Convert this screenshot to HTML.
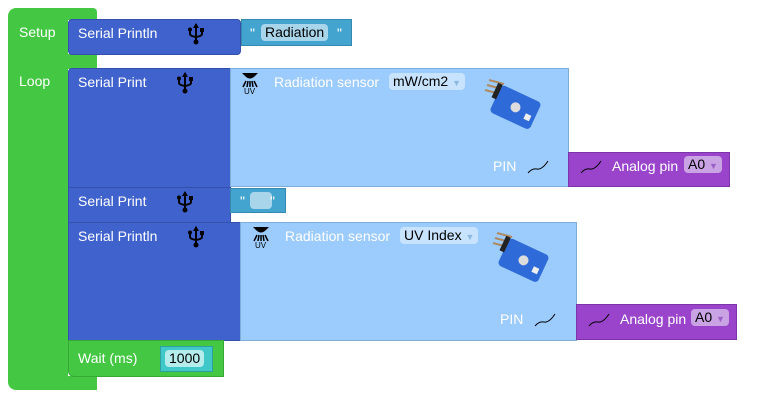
<!DOCTYPE html>
<html><head><meta charset="utf-8"><style>
body{margin:0;width:777px;height:401px;background:#fff;position:relative;overflow:hidden;font-family:"Liberation Sans",Arial,sans-serif;font-size:14px;color:#fff}
.a{position:absolute;box-sizing:border-box}
.g{background:#44c844}
.b{background:#4062cc;border:1px solid #3350aa}
.s{background:#43a4cf;border:1px solid #3689ae}
.l{background:#9ccbfd;border:1px solid #7fadd9}
.p{background:#9a44cc;border:1px solid #7c34a8}
.t{position:absolute;white-space:nowrap;line-height:16px;font-family:"Liberation Sans",Arial,sans-serif}
.f{position:absolute;border-radius:4px;color:#000;padding:0 4px;line-height:17px;height:17px;white-space:nowrap}
</style></head><body>
<svg width="0" height="0" style="position:absolute"><defs>
<g id="usb"><path d="M8 1 L8 18" stroke="#000" stroke-width="2"/><path d="M5 5 L8 0 L11 5Z" fill="#000"/><circle cx="8" cy="19" r="2.5" fill="#000"/><path d="M2 7 L2 11 Q2 13 8 14 Q14 13 14 11 L14 8" stroke="#000" stroke-width="2" fill="none"/><circle cx="2" cy="6.5" r="2" fill="#000"/><rect x="12" y="5" width="4" height="4" fill="#000"/></g>
<g id="uv"><path d="M2 1 L18 1 L15 4 Q10 9 5 4 Z" fill="#000"/><path d="M6 9 L3 15 M8 9 L7 15 M12 9 L13 15 M14 9 L17 15 M10 9 L10 15" stroke="#000" stroke-width="1.5"/><text x="4" y="22" font-size="8" fill="#000" font-family="Liberation Sans">UV</text></g>
<g id="board"><path d="M5 12 L20 16 M7 7 L22 11 M9 2 L24 6" stroke="#b08a60" stroke-width="2"/><g transform="rotate(25 35 28)"><rect x="14" y="14" width="44" height="30" rx="4" fill="#2f6bd8"/><circle cx="36" cy="29" r="5" fill="#ddd"/><rect x="48" y="30" width="6" height="6" fill="#eee"/><rect x="10" y="14" width="5" height="16" fill="#222"/></g></g>
</defs></svg>
<div class="a g" style="left:8px;top:8px;width:60px;height:382px;border-radius:8px 0 0 8px"></div>
<div class="a g" style="left:60px;top:8px;width:37px;height:12px;border-radius:0 4px 0 0"></div>
<div class="a g" style="left:60px;top:54px;width:37px;height:15px"></div>
<div class="a g" style="left:60px;top:376px;width:37px;height:14px"></div>
<div class="t" style="left:19px;top:24px">Setup</div>
<div class="t" style="left:19px;top:73px">Loop</div>

<div class="a b" style="left:68px;top:19px;width:173px;height:36px;border-radius:4px"></div>
<div class="t" style="left:78px;top:25px">Serial Println</div>
<svg class="a" style="left:188px;top:23px" width="18" height="24"><use href="#usb"/></svg>
<div class="a s" style="left:241px;top:19px;width:111px;height:27px"></div>
<div class="t" style="left:250px;top:25px">"</div>
<div class="f" style="left:261px;top:24px;background:#a9d5ea">Radiation</div>
<div class="t" style="left:337px;top:25px">"</div>

<div class="a b" style="left:68px;top:68px;width:163px;height:120px;border-radius:4px 0 0 0"></div>
<div class="t" style="left:78px;top:74px">Serial Print</div>
<svg class="a" style="left:177px;top:72px" width="18" height="24"><use href="#usb"/></svg>
<div class="a l" style="left:230px;top:68px;width:339px;height:119px"></div>
<svg class="a" style="left:240px;top:72px" width="22" height="26"><use href="#uv"/></svg>
<div class="t" style="left:274px;top:74px">Radiation sensor</div>
<div class="f" style="left:389px;top:73px;background:#c8e3fd">mW/cm2 <span style="color:#8fb8e0;font-size:9px">▼</span></div>
<svg class="a" style="left:480px;top:78px" width="70" height="55"><use href="#board"/></svg>
<div class="t" style="left:493px;top:158px">PIN</div>
<svg class="a" style="left:527px;top:160px" width="22" height="14"><path d="M1 13 Q5 8 10 9 T21 1" stroke="#000" fill="none"/></svg>
<div class="a p" style="left:568px;top:152px;width:162px;height:35px"></div>
<svg class="a" style="left:580px;top:160px" width="22" height="14"><path d="M1 13 Q5 8 10 9 T21 1" stroke="#000" fill="none"/></svg>
<div class="t" style="left:612px;top:158px">Analog pin</div>
<div class="f" style="left:684px;top:156px;background:#c9a3e3">A0 <span style="color:#9a60c8;font-size:9px">▼</span></div>

<div class="a b" style="left:68px;top:187px;width:163px;height:36px"></div>
<div class="t" style="left:78px;top:193px">Serial Print</div>
<svg class="a" style="left:177px;top:191px" width="18" height="24"><use href="#usb"/></svg>
<div class="a s" style="left:230px;top:188px;width:56px;height:25px"></div>
<div class="t" style="left:240px;top:193px">"</div>
<div class="f" style="left:250px;top:192px;width:14px;background:#a9d5ea"></div>
<div class="t" style="left:270px;top:193px">"</div>

<div class="a b" style="left:68px;top:222px;width:173px;height:119px"></div>
<div class="t" style="left:78px;top:228px">Serial Println</div>
<svg class="a" style="left:188px;top:226px" width="18" height="24"><use href="#usb"/></svg>
<div class="a l" style="left:240px;top:222px;width:337px;height:119px"></div>
<svg class="a" style="left:251px;top:226px" width="22" height="26"><use href="#uv"/></svg>
<div class="t" style="left:285px;top:228px">Radiation sensor</div>
<div class="f" style="left:400px;top:227px;background:#c8e3fd">UV Index <span style="color:#8fb8e0;font-size:9px">▼</span></div>
<svg class="a" style="left:488px;top:231px" width="70" height="55"><use href="#board"/></svg>
<div class="t" style="left:500px;top:311px">PIN</div>
<svg class="a" style="left:534px;top:313px" width="22" height="14"><path d="M1 13 Q5 8 10 9 T21 1" stroke="#000" fill="none"/></svg>
<div class="a p" style="left:576px;top:304px;width:161px;height:36px"></div>
<svg class="a" style="left:588px;top:313px" width="22" height="14"><path d="M1 13 Q5 8 10 9 T21 1" stroke="#000" fill="none"/></svg>
<div class="t" style="left:620px;top:311px">Analog pin</div>
<div class="f" style="left:691px;top:309px;background:#c9a3e3">A0 <span style="color:#9a60c8;font-size:9px">▼</span></div>

<div class="a g" style="left:68px;top:340px;width:156px;height:37px;border:1px solid #35a835;border-radius:0 0 0 6px"></div>
<div class="t" style="left:78px;top:350px">Wait (ms)</div>
<div class="a" style="left:160px;top:346px;width:53px;height:26px;background:#40c8c8;border:1px solid #2fa0a0"></div>
<div class="f" style="left:165px;top:350px;background:#b5ecec">1000</div>
</body></html>
